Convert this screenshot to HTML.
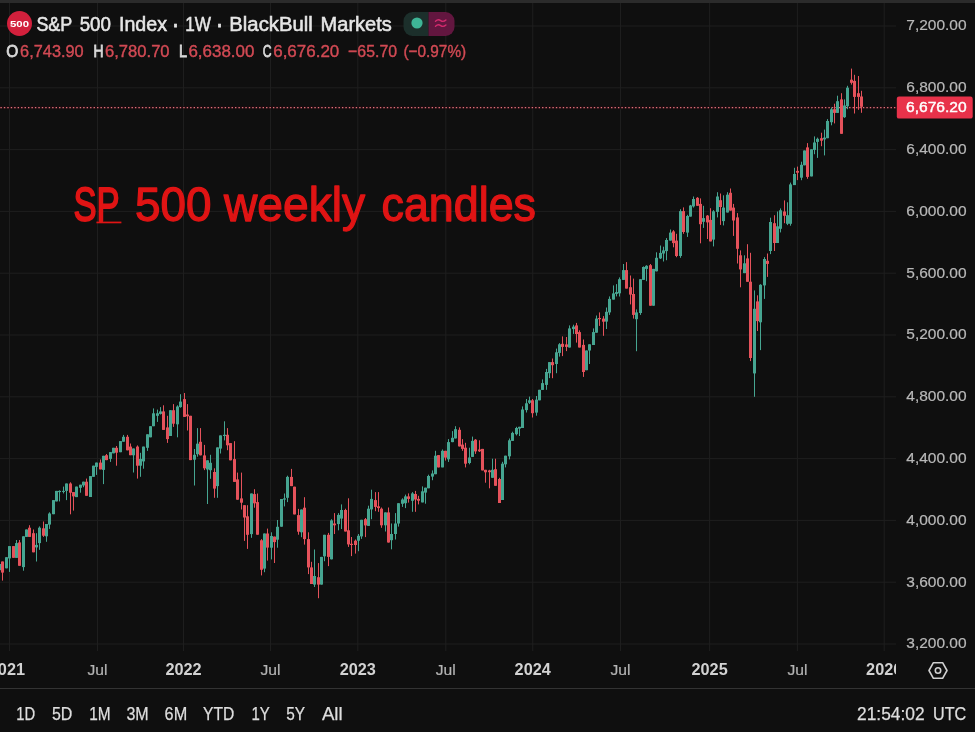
<!DOCTYPE html>
<html lang="en"><head><meta charset="utf-8"><title>S&amp;P 500 Index weekly chart</title>
<style>html,body{margin:0;padding:0;background:#0f0f0f;}body{width:975px;height:732px;overflow:hidden;font-family:"Liberation Sans",sans-serif;}</style>
</head><body>
<svg width="975" height="732" viewBox="0 0 975 732" style="display:block" font-family="'Liberation Sans', sans-serif">
<rect width="975" height="732" fill="#0f0f0f"/>
<rect x="0" y="0" width="975" height="3" fill="#2b2b2b"/>
<rect x="9.0" y="3" width="1" height="648" fill="#1e1e1e"/>
<rect x="97.0" y="3" width="1" height="648" fill="#1e1e1e"/>
<rect x="183.0" y="3" width="1" height="648" fill="#1e1e1e"/>
<rect x="270.0" y="3" width="1" height="648" fill="#1e1e1e"/>
<rect x="357.3" y="3" width="1" height="648" fill="#1e1e1e"/>
<rect x="445.3" y="3" width="1" height="648" fill="#1e1e1e"/>
<rect x="532.2" y="3" width="1" height="648" fill="#1e1e1e"/>
<rect x="620.0" y="3" width="1" height="648" fill="#1e1e1e"/>
<rect x="709.1" y="3" width="1" height="648" fill="#1e1e1e"/>
<rect x="796.9" y="3" width="1" height="648" fill="#1e1e1e"/>
<rect x="883.7" y="3" width="1" height="648" fill="#1e1e1e"/>
<rect x="0" y="643.5" width="896" height="1" fill="#1e1e1e"/>
<rect x="0" y="581.7" width="896" height="1" fill="#1e1e1e"/>
<rect x="0" y="519.9" width="896" height="1" fill="#1e1e1e"/>
<rect x="0" y="458.1" width="896" height="1" fill="#1e1e1e"/>
<rect x="0" y="396.3" width="896" height="1" fill="#1e1e1e"/>
<rect x="0" y="334.5" width="896" height="1" fill="#1e1e1e"/>
<rect x="0" y="272.7" width="896" height="1" fill="#1e1e1e"/>
<rect x="0" y="210.9" width="896" height="1" fill="#1e1e1e"/>
<rect x="0" y="149.1" width="896" height="1" fill="#1e1e1e"/>
<rect x="0" y="87.3" width="896" height="1" fill="#1e1e1e"/>
<rect x="0" y="25.5" width="896" height="1" fill="#1e1e1e"/>
<rect x="0" y="688" width="975" height="1" fill="#333333"/>
<rect x="0" y="106.1" width="896" height="3" fill="#1c0d10" style="filter:blur(0.6px)"/>
<path d="M0.40 107.6h1.4M3.85 107.6h1.4M7.30 107.6h1.4M10.75 107.6h1.4M14.20 107.6h1.4M17.65 107.6h1.4M21.10 107.6h1.4M24.55 107.6h1.4M28.00 107.6h1.4M31.45 107.6h1.4M34.90 107.6h1.4M38.35 107.6h1.4M41.80 107.6h1.4M45.25 107.6h1.4M48.70 107.6h1.4M52.15 107.6h1.4M55.60 107.6h1.4M59.05 107.6h1.4M62.50 107.6h1.4M65.95 107.6h1.4M69.40 107.6h1.4M72.85 107.6h1.4M76.30 107.6h1.4M79.75 107.6h1.4M83.20 107.6h1.4M86.65 107.6h1.4M90.10 107.6h1.4M93.55 107.6h1.4M97.00 107.6h1.4M100.45 107.6h1.4M103.90 107.6h1.4M107.35 107.6h1.4M110.80 107.6h1.4M114.25 107.6h1.4M117.70 107.6h1.4M121.15 107.6h1.4M124.60 107.6h1.4M128.05 107.6h1.4M131.50 107.6h1.4M134.95 107.6h1.4M138.40 107.6h1.4M141.85 107.6h1.4M145.30 107.6h1.4M148.75 107.6h1.4M152.20 107.6h1.4M155.65 107.6h1.4M159.10 107.6h1.4M162.55 107.6h1.4M166.00 107.6h1.4M169.45 107.6h1.4M172.90 107.6h1.4M176.35 107.6h1.4M179.80 107.6h1.4M183.25 107.6h1.4M186.70 107.6h1.4M190.15 107.6h1.4M193.60 107.6h1.4M197.05 107.6h1.4M200.50 107.6h1.4M203.95 107.6h1.4M207.40 107.6h1.4M210.85 107.6h1.4M214.30 107.6h1.4M217.75 107.6h1.4M221.20 107.6h1.4M224.65 107.6h1.4M228.10 107.6h1.4M231.55 107.6h1.4M235.00 107.6h1.4M238.45 107.6h1.4M241.90 107.6h1.4M245.35 107.6h1.4M248.80 107.6h1.4M252.25 107.6h1.4M255.70 107.6h1.4M259.15 107.6h1.4M262.60 107.6h1.4M266.05 107.6h1.4M269.50 107.6h1.4M272.95 107.6h1.4M276.40 107.6h1.4M279.85 107.6h1.4M283.30 107.6h1.4M286.75 107.6h1.4M290.20 107.6h1.4M293.65 107.6h1.4M297.10 107.6h1.4M300.55 107.6h1.4M304.00 107.6h1.4M307.45 107.6h1.4M310.90 107.6h1.4M314.35 107.6h1.4M317.80 107.6h1.4M321.25 107.6h1.4M324.70 107.6h1.4M328.15 107.6h1.4M331.60 107.6h1.4M335.05 107.6h1.4M338.50 107.6h1.4M341.95 107.6h1.4M345.40 107.6h1.4M348.85 107.6h1.4M352.30 107.6h1.4M355.75 107.6h1.4M359.20 107.6h1.4M362.65 107.6h1.4M366.10 107.6h1.4M369.55 107.6h1.4M373.00 107.6h1.4M376.45 107.6h1.4M379.90 107.6h1.4M383.35 107.6h1.4M386.80 107.6h1.4M390.25 107.6h1.4M393.70 107.6h1.4M397.15 107.6h1.4M400.60 107.6h1.4M404.05 107.6h1.4M407.50 107.6h1.4M410.95 107.6h1.4M414.40 107.6h1.4M417.85 107.6h1.4M421.30 107.6h1.4M424.75 107.6h1.4M428.20 107.6h1.4M431.65 107.6h1.4M435.10 107.6h1.4M438.55 107.6h1.4M442.00 107.6h1.4M445.45 107.6h1.4M448.90 107.6h1.4M452.35 107.6h1.4M455.80 107.6h1.4M459.25 107.6h1.4M462.70 107.6h1.4M466.15 107.6h1.4M469.60 107.6h1.4M473.05 107.6h1.4M476.50 107.6h1.4M479.95 107.6h1.4M483.40 107.6h1.4M486.85 107.6h1.4M490.30 107.6h1.4M493.75 107.6h1.4M497.20 107.6h1.4M500.65 107.6h1.4M504.10 107.6h1.4M507.55 107.6h1.4M511.00 107.6h1.4M514.45 107.6h1.4M517.90 107.6h1.4M521.35 107.6h1.4M524.80 107.6h1.4M528.25 107.6h1.4M531.70 107.6h1.4M535.15 107.6h1.4M538.60 107.6h1.4M542.05 107.6h1.4M545.50 107.6h1.4M548.95 107.6h1.4M552.40 107.6h1.4M555.85 107.6h1.4M559.30 107.6h1.4M562.75 107.6h1.4M566.20 107.6h1.4M569.65 107.6h1.4M573.10 107.6h1.4M576.55 107.6h1.4M580.00 107.6h1.4M583.45 107.6h1.4M586.90 107.6h1.4M590.35 107.6h1.4M593.80 107.6h1.4M597.25 107.6h1.4M600.70 107.6h1.4M604.15 107.6h1.4M607.60 107.6h1.4M611.05 107.6h1.4M614.50 107.6h1.4M617.95 107.6h1.4M621.40 107.6h1.4M624.85 107.6h1.4M628.30 107.6h1.4M631.75 107.6h1.4M635.20 107.6h1.4M638.65 107.6h1.4M642.10 107.6h1.4M645.55 107.6h1.4M649.00 107.6h1.4M652.45 107.6h1.4M655.90 107.6h1.4M659.35 107.6h1.4M662.80 107.6h1.4M666.25 107.6h1.4M669.70 107.6h1.4M673.15 107.6h1.4M676.60 107.6h1.4M680.05 107.6h1.4M683.50 107.6h1.4M686.95 107.6h1.4M690.40 107.6h1.4M693.85 107.6h1.4M697.30 107.6h1.4M700.75 107.6h1.4M704.20 107.6h1.4M707.65 107.6h1.4M711.10 107.6h1.4M714.55 107.6h1.4M718.00 107.6h1.4M721.45 107.6h1.4M724.90 107.6h1.4M728.35 107.6h1.4M731.80 107.6h1.4M735.25 107.6h1.4M738.70 107.6h1.4M742.15 107.6h1.4M745.60 107.6h1.4M749.05 107.6h1.4M752.50 107.6h1.4M755.95 107.6h1.4M759.40 107.6h1.4M762.85 107.6h1.4M766.30 107.6h1.4M769.75 107.6h1.4M773.20 107.6h1.4M776.65 107.6h1.4M780.10 107.6h1.4M783.55 107.6h1.4M787.00 107.6h1.4M790.45 107.6h1.4M793.90 107.6h1.4M797.35 107.6h1.4M800.80 107.6h1.4M804.25 107.6h1.4M807.70 107.6h1.4M811.15 107.6h1.4M814.60 107.6h1.4M818.05 107.6h1.4M821.50 107.6h1.4M824.95 107.6h1.4M828.40 107.6h1.4M831.85 107.6h1.4M835.30 107.6h1.4M838.75 107.6h1.4M842.20 107.6h1.4M845.65 107.6h1.4M849.10 107.6h1.4M852.55 107.6h1.4M856.00 107.6h1.4M859.45 107.6h1.4M862.90 107.6h1.4M866.35 107.6h1.4M869.80 107.6h1.4M873.25 107.6h1.4M876.70 107.6h1.4M880.15 107.6h1.4M883.60 107.6h1.4M887.05 107.6h1.4M890.50 107.6h1.4M893.95 107.6h1.4" stroke="#e0707a" stroke-width="1.3" fill="none"/>
<g style="filter:blur(0.4px)">
<rect x="-1" y="564.0" width="1" height="6.2" fill="#46a591"/>
<rect x="-2" y="564.0" width="3" height="6.2" fill="#46a591"/>
<rect x="2" y="561.5" width="1" height="19.1" fill="#e5525b"/>
<rect x="1" y="561.5" width="3" height="11.1" fill="#e5525b"/>
<rect x="6" y="557.2" width="1" height="11.1" fill="#46a591"/>
<rect x="5" y="557.2" width="3" height="11.1" fill="#46a591"/>
<rect x="9" y="546.1" width="1" height="25.8" fill="#46a591"/>
<rect x="8" y="546.1" width="3" height="12.3" fill="#46a591"/>
<rect x="13" y="546.1" width="1" height="11.7" fill="#e5525b"/>
<rect x="12" y="546.1" width="3" height="11.7" fill="#e5525b"/>
<rect x="16" y="540.0" width="1" height="17.8" fill="#46a591"/>
<rect x="15" y="543.1" width="3" height="14.8" fill="#46a591"/>
<rect x="19" y="540.0" width="1" height="25.8" fill="#e5525b"/>
<rect x="18" y="542.4" width="3" height="23.4" fill="#e5525b"/>
<rect x="23" y="536.3" width="1" height="34.4" fill="#46a591"/>
<rect x="22" y="536.3" width="3" height="30.8" fill="#46a591"/>
<rect x="26" y="529.5" width="1" height="7.4" fill="#46a591"/>
<rect x="25" y="529.5" width="3" height="7.4" fill="#46a591"/>
<rect x="29" y="525.2" width="1" height="11.7" fill="#e5525b"/>
<rect x="28" y="527.7" width="3" height="9.2" fill="#e5525b"/>
<rect x="33" y="529.5" width="1" height="22.8" fill="#e5525b"/>
<rect x="32" y="533.2" width="3" height="19.1" fill="#e5525b"/>
<rect x="36" y="533.2" width="1" height="28.3" fill="#46a591"/>
<rect x="35" y="544.9" width="3" height="2.5" fill="#46a591"/>
<rect x="39" y="526.4" width="1" height="23.4" fill="#46a591"/>
<rect x="38" y="527.7" width="3" height="15.4" fill="#46a591"/>
<rect x="43" y="521.5" width="1" height="15.4" fill="#e5525b"/>
<rect x="42" y="528.3" width="3" height="7.4" fill="#e5525b"/>
<rect x="46" y="524.0" width="1" height="17.8" fill="#46a591"/>
<rect x="45" y="524.0" width="3" height="12.3" fill="#46a591"/>
<rect x="49" y="512.3" width="1" height="16.6" fill="#46a591"/>
<rect x="48" y="513.5" width="3" height="11.1" fill="#46a591"/>
<rect x="53" y="500.1" width="1" height="14.1" fill="#46a591"/>
<rect x="52" y="500.1" width="3" height="14.1" fill="#46a591"/>
<rect x="56" y="490.9" width="1" height="10.5" fill="#46a591"/>
<rect x="55" y="490.9" width="3" height="10.5" fill="#46a591"/>
<rect x="59" y="490.3" width="1" height="11.1" fill="#46a591"/>
<rect x="58" y="490.9" width="3" height="1.2" fill="#46a591"/>
<rect x="63" y="486.6" width="1" height="6.8" fill="#46a591"/>
<rect x="62" y="490.9" width="3" height="1.0" fill="#46a591"/>
<rect x="66" y="483.5" width="1" height="16.6" fill="#46a591"/>
<rect x="65" y="483.5" width="3" height="7.4" fill="#46a591"/>
<rect x="70" y="482.3" width="1" height="32.0" fill="#e5525b"/>
<rect x="69" y="483.5" width="3" height="9.2" fill="#e5525b"/>
<rect x="73" y="492.1" width="1" height="18.5" fill="#e5525b"/>
<rect x="72" y="492.1" width="3" height="4.3" fill="#e5525b"/>
<rect x="76" y="486.6" width="1" height="10.5" fill="#46a591"/>
<rect x="75" y="486.6" width="3" height="10.5" fill="#46a591"/>
<rect x="80" y="484.7" width="1" height="8.0" fill="#46a591"/>
<rect x="79" y="484.7" width="3" height="3.1" fill="#46a591"/>
<rect x="83" y="481.7" width="1" height="5.5" fill="#46a591"/>
<rect x="82" y="481.7" width="3" height="3.7" fill="#46a591"/>
<rect x="86" y="478.6" width="1" height="17.2" fill="#e5525b"/>
<rect x="85" y="481.7" width="3" height="14.1" fill="#e5525b"/>
<rect x="90" y="476.1" width="1" height="20.9" fill="#46a591"/>
<rect x="89" y="476.1" width="3" height="20.9" fill="#46a591"/>
<rect x="93" y="465.7" width="1" height="11.1" fill="#46a591"/>
<rect x="92" y="465.7" width="3" height="11.1" fill="#46a591"/>
<rect x="96" y="462.6" width="1" height="12.3" fill="#46a591"/>
<rect x="95" y="462.6" width="3" height="4.3" fill="#46a591"/>
<rect x="100" y="459.5" width="1" height="9.8" fill="#e5525b"/>
<rect x="99" y="462.6" width="3" height="6.8" fill="#e5525b"/>
<rect x="103" y="455.8" width="1" height="28.3" fill="#46a591"/>
<rect x="102" y="455.8" width="3" height="14.1" fill="#46a591"/>
<rect x="106" y="454.0" width="1" height="6.2" fill="#e5525b"/>
<rect x="105" y="455.2" width="3" height="4.9" fill="#e5525b"/>
<rect x="110" y="452.1" width="1" height="9.8" fill="#46a591"/>
<rect x="109" y="452.1" width="3" height="6.8" fill="#46a591"/>
<rect x="113" y="447.8" width="1" height="5.5" fill="#46a591"/>
<rect x="112" y="447.8" width="3" height="5.5" fill="#46a591"/>
<rect x="116" y="446.0" width="1" height="19.7" fill="#e5525b"/>
<rect x="115" y="447.8" width="3" height="4.9" fill="#e5525b"/>
<rect x="120" y="441.1" width="1" height="11.1" fill="#46a591"/>
<rect x="119" y="441.1" width="3" height="11.1" fill="#46a591"/>
<rect x="123" y="434.9" width="1" height="6.8" fill="#46a591"/>
<rect x="122" y="436.8" width="3" height="4.9" fill="#46a591"/>
<rect x="127" y="434.9" width="1" height="15.4" fill="#e5525b"/>
<rect x="126" y="436.8" width="3" height="13.5" fill="#e5525b"/>
<rect x="130" y="443.5" width="1" height="11.7" fill="#e5525b"/>
<rect x="129" y="446.6" width="3" height="8.6" fill="#e5525b"/>
<rect x="133" y="448.5" width="1" height="24.0" fill="#46a591"/>
<rect x="132" y="448.5" width="3" height="6.8" fill="#46a591"/>
<rect x="137" y="445.4" width="1" height="33.2" fill="#e5525b"/>
<rect x="136" y="446.6" width="3" height="19.1" fill="#e5525b"/>
<rect x="140" y="452.8" width="1" height="24.0" fill="#46a591"/>
<rect x="139" y="458.9" width="3" height="6.8" fill="#46a591"/>
<rect x="143" y="446.6" width="1" height="22.1" fill="#46a591"/>
<rect x="142" y="446.6" width="3" height="14.8" fill="#46a591"/>
<rect x="147" y="434.3" width="1" height="16.6" fill="#46a591"/>
<rect x="146" y="434.3" width="3" height="13.5" fill="#46a591"/>
<rect x="150" y="426.2" width="1" height="11.1" fill="#46a591"/>
<rect x="149" y="426.2" width="3" height="11.1" fill="#46a591"/>
<rect x="153" y="408.4" width="1" height="17.8" fill="#46a591"/>
<rect x="152" y="413.3" width="3" height="12.9" fill="#46a591"/>
<rect x="157" y="409.6" width="1" height="12.3" fill="#46a591"/>
<rect x="156" y="413.3" width="3" height="2.5" fill="#46a591"/>
<rect x="160" y="407.1" width="1" height="7.4" fill="#46a591"/>
<rect x="159" y="411.4" width="3" height="2.5" fill="#46a591"/>
<rect x="163" y="405.3" width="1" height="24.6" fill="#e5525b"/>
<rect x="162" y="411.4" width="3" height="18.5" fill="#e5525b"/>
<rect x="167" y="415.8" width="1" height="27.1" fill="#e5525b"/>
<rect x="166" y="427.4" width="3" height="11.7" fill="#e5525b"/>
<rect x="170" y="410.2" width="1" height="25.8" fill="#46a591"/>
<rect x="169" y="410.2" width="3" height="25.8" fill="#46a591"/>
<rect x="173" y="404.1" width="1" height="22.8" fill="#e5525b"/>
<rect x="172" y="410.2" width="3" height="13.5" fill="#e5525b"/>
<rect x="177" y="405.3" width="1" height="32.0" fill="#46a591"/>
<rect x="176" y="406.5" width="3" height="17.8" fill="#46a591"/>
<rect x="180" y="394.2" width="1" height="13.5" fill="#46a591"/>
<rect x="179" y="401.6" width="3" height="5.5" fill="#46a591"/>
<rect x="184" y="393.0" width="1" height="24.0" fill="#e5525b"/>
<rect x="183" y="399.1" width="3" height="17.8" fill="#e5525b"/>
<rect x="187" y="404.1" width="1" height="26.4" fill="#e5525b"/>
<rect x="186" y="414.5" width="3" height="1.8" fill="#e5525b"/>
<rect x="190" y="415.8" width="1" height="44.3" fill="#e5525b"/>
<rect x="189" y="415.8" width="3" height="44.3" fill="#e5525b"/>
<rect x="194" y="449.0" width="1" height="36.5" fill="#46a591"/>
<rect x="193" y="454.8" width="3" height="4.9" fill="#46a591"/>
<rect x="197" y="428.1" width="1" height="28.6" fill="#46a591"/>
<rect x="196" y="443.7" width="3" height="10.5" fill="#46a591"/>
<rect x="200" y="428.1" width="1" height="27.3" fill="#e5525b"/>
<rect x="199" y="441.8" width="3" height="13.5" fill="#e5525b"/>
<rect x="204" y="444.9" width="1" height="25.2" fill="#e5525b"/>
<rect x="203" y="455.4" width="3" height="12.9" fill="#e5525b"/>
<rect x="207" y="460.3" width="1" height="43.7" fill="#46a591"/>
<rect x="206" y="460.3" width="3" height="9.2" fill="#46a591"/>
<rect x="210" y="454.8" width="1" height="24.0" fill="#46a591"/>
<rect x="209" y="462.8" width="3" height="7.4" fill="#46a591"/>
<rect x="214" y="468.3" width="1" height="29.5" fill="#e5525b"/>
<rect x="213" y="472.0" width="3" height="16.6" fill="#e5525b"/>
<rect x="217" y="447.4" width="1" height="50.4" fill="#46a591"/>
<rect x="216" y="447.4" width="3" height="38.7" fill="#46a591"/>
<rect x="220" y="435.4" width="1" height="18.1" fill="#46a591"/>
<rect x="219" y="435.4" width="3" height="13.2" fill="#46a591"/>
<rect x="224" y="421.3" width="1" height="19.1" fill="#46a591"/>
<rect x="223" y="434.8" width="3" height="1.2" fill="#46a591"/>
<rect x="227" y="428.1" width="1" height="22.1" fill="#e5525b"/>
<rect x="226" y="434.8" width="3" height="10.5" fill="#e5525b"/>
<rect x="230" y="443.1" width="1" height="17.2" fill="#e5525b"/>
<rect x="229" y="443.1" width="3" height="17.2" fill="#e5525b"/>
<rect x="234" y="441.2" width="1" height="40.6" fill="#e5525b"/>
<rect x="233" y="459.1" width="3" height="22.8" fill="#e5525b"/>
<rect x="237" y="472.6" width="1" height="27.1" fill="#e5525b"/>
<rect x="236" y="479.4" width="3" height="20.3" fill="#e5525b"/>
<rect x="241" y="472.6" width="1" height="36.9" fill="#e5525b"/>
<rect x="240" y="498.4" width="3" height="4.3" fill="#e5525b"/>
<rect x="244" y="505.2" width="1" height="35.7" fill="#e5525b"/>
<rect x="243" y="505.2" width="3" height="12.3" fill="#e5525b"/>
<rect x="247" y="505.2" width="1" height="43.7" fill="#e5525b"/>
<rect x="246" y="516.3" width="3" height="18.5" fill="#e5525b"/>
<rect x="251" y="493.5" width="1" height="44.3" fill="#46a591"/>
<rect x="250" y="493.5" width="3" height="40.6" fill="#46a591"/>
<rect x="254" y="489.2" width="1" height="18.5" fill="#e5525b"/>
<rect x="253" y="494.1" width="3" height="9.2" fill="#e5525b"/>
<rect x="257" y="493.5" width="1" height="41.2" fill="#e5525b"/>
<rect x="256" y="502.1" width="3" height="32.6" fill="#e5525b"/>
<rect x="261" y="539.1" width="1" height="36.3" fill="#e5525b"/>
<rect x="260" y="540.3" width="3" height="29.5" fill="#e5525b"/>
<rect x="264" y="533.5" width="1" height="38.7" fill="#46a591"/>
<rect x="263" y="533.5" width="3" height="35.1" fill="#46a591"/>
<rect x="267" y="528.6" width="1" height="32.0" fill="#e5525b"/>
<rect x="266" y="533.5" width="3" height="14.1" fill="#e5525b"/>
<rect x="271" y="532.3" width="1" height="27.1" fill="#46a591"/>
<rect x="270" y="536.0" width="3" height="11.7" fill="#46a591"/>
<rect x="274" y="536.6" width="1" height="26.4" fill="#e5525b"/>
<rect x="273" y="536.6" width="3" height="5.5" fill="#e5525b"/>
<rect x="277" y="520.0" width="1" height="27.7" fill="#46a591"/>
<rect x="276" y="526.8" width="3" height="12.9" fill="#46a591"/>
<rect x="281" y="499.0" width="1" height="27.7" fill="#46a591"/>
<rect x="280" y="499.0" width="3" height="27.7" fill="#46a591"/>
<rect x="284" y="493.5" width="1" height="12.9" fill="#46a591"/>
<rect x="283" y="498.4" width="3" height="1.2" fill="#46a591"/>
<rect x="287" y="475.7" width="1" height="26.4" fill="#46a591"/>
<rect x="286" y="476.9" width="3" height="20.9" fill="#46a591"/>
<rect x="291" y="468.9" width="1" height="17.2" fill="#e5525b"/>
<rect x="290" y="476.9" width="3" height="9.2" fill="#e5525b"/>
<rect x="294" y="486.7" width="1" height="27.7" fill="#e5525b"/>
<rect x="293" y="486.7" width="3" height="27.7" fill="#e5525b"/>
<rect x="298" y="508.9" width="1" height="25.8" fill="#e5525b"/>
<rect x="297" y="515.1" width="3" height="16.6" fill="#e5525b"/>
<rect x="301" y="509.5" width="1" height="27.7" fill="#46a591"/>
<rect x="300" y="509.5" width="3" height="22.8" fill="#46a591"/>
<rect x="304" y="497.2" width="1" height="47.4" fill="#e5525b"/>
<rect x="303" y="507.7" width="3" height="31.4" fill="#e5525b"/>
<rect x="308" y="532.3" width="1" height="41.8" fill="#e5525b"/>
<rect x="307" y="539.1" width="3" height="28.3" fill="#e5525b"/>
<rect x="311" y="561.8" width="1" height="22.1" fill="#e5525b"/>
<rect x="310" y="567.4" width="3" height="16.6" fill="#e5525b"/>
<rect x="314" y="549.5" width="1" height="37.5" fill="#46a591"/>
<rect x="313" y="576.0" width="3" height="8.6" fill="#46a591"/>
<rect x="318" y="563.1" width="1" height="35.1" fill="#e5525b"/>
<rect x="317" y="577.2" width="3" height="7.4" fill="#e5525b"/>
<rect x="321" y="556.9" width="1" height="27.7" fill="#46a591"/>
<rect x="320" y="556.9" width="3" height="27.7" fill="#46a591"/>
<rect x="324" y="534.8" width="1" height="26.4" fill="#46a591"/>
<rect x="323" y="534.8" width="3" height="21.5" fill="#46a591"/>
<rect x="328" y="532.9" width="1" height="33.2" fill="#e5525b"/>
<rect x="327" y="534.8" width="3" height="22.1" fill="#e5525b"/>
<rect x="331" y="519.2" width="1" height="40.2" fill="#46a591"/>
<rect x="330" y="520.4" width="3" height="38.9" fill="#46a591"/>
<rect x="334" y="513.1" width="1" height="20.9" fill="#e5525b"/>
<rect x="333" y="523.5" width="3" height="1.8" fill="#e5525b"/>
<rect x="338" y="513.1" width="1" height="17.2" fill="#46a591"/>
<rect x="337" y="514.9" width="3" height="9.2" fill="#46a591"/>
<rect x="341" y="504.4" width="1" height="24.6" fill="#46a591"/>
<rect x="340" y="510.0" width="3" height="8.6" fill="#46a591"/>
<rect x="345" y="508.7" width="1" height="22.8" fill="#e5525b"/>
<rect x="344" y="510.0" width="3" height="21.5" fill="#e5525b"/>
<rect x="348" y="498.3" width="1" height="48.6" fill="#e5525b"/>
<rect x="347" y="530.3" width="3" height="14.1" fill="#e5525b"/>
<rect x="351" y="537.0" width="1" height="19.1" fill="#e5525b"/>
<rect x="350" y="543.8" width="3" height="1.2" fill="#e5525b"/>
<rect x="355" y="539.5" width="1" height="14.1" fill="#e5525b"/>
<rect x="354" y="540.7" width="3" height="4.3" fill="#e5525b"/>
<rect x="358" y="534.0" width="1" height="17.2" fill="#46a591"/>
<rect x="357" y="535.8" width="3" height="4.9" fill="#46a591"/>
<rect x="361" y="519.8" width="1" height="19.1" fill="#46a591"/>
<rect x="360" y="519.8" width="3" height="16.6" fill="#46a591"/>
<rect x="365" y="518.0" width="1" height="19.1" fill="#e5525b"/>
<rect x="364" y="519.2" width="3" height="6.2" fill="#e5525b"/>
<rect x="368" y="505.7" width="1" height="20.3" fill="#46a591"/>
<rect x="367" y="508.7" width="3" height="17.2" fill="#46a591"/>
<rect x="371" y="489.7" width="1" height="29.5" fill="#46a591"/>
<rect x="370" y="498.9" width="3" height="10.5" fill="#46a591"/>
<rect x="375" y="492.1" width="1" height="19.1" fill="#e5525b"/>
<rect x="374" y="500.1" width="3" height="6.8" fill="#e5525b"/>
<rect x="378" y="492.1" width="1" height="19.7" fill="#e5525b"/>
<rect x="377" y="506.3" width="3" height="1.8" fill="#e5525b"/>
<rect x="381" y="507.5" width="1" height="20.3" fill="#e5525b"/>
<rect x="380" y="508.7" width="3" height="16.6" fill="#e5525b"/>
<rect x="385" y="512.4" width="1" height="19.1" fill="#46a591"/>
<rect x="384" y="512.4" width="3" height="12.9" fill="#46a591"/>
<rect x="388" y="507.5" width="1" height="35.1" fill="#e5525b"/>
<rect x="387" y="512.4" width="3" height="30.1" fill="#e5525b"/>
<rect x="391" y="523.5" width="1" height="25.8" fill="#46a591"/>
<rect x="390" y="534.0" width="3" height="6.2" fill="#46a591"/>
<rect x="395" y="513.1" width="1" height="26.4" fill="#46a591"/>
<rect x="394" y="523.5" width="3" height="10.5" fill="#46a591"/>
<rect x="398" y="503.2" width="1" height="23.4" fill="#46a591"/>
<rect x="397" y="503.2" width="3" height="20.3" fill="#46a591"/>
<rect x="402" y="498.3" width="1" height="8.6" fill="#46a591"/>
<rect x="401" y="499.5" width="3" height="4.3" fill="#46a591"/>
<rect x="405" y="494.6" width="1" height="13.5" fill="#46a591"/>
<rect x="404" y="496.4" width="3" height="6.8" fill="#46a591"/>
<rect x="408" y="493.4" width="1" height="9.2" fill="#e5525b"/>
<rect x="407" y="496.4" width="3" height="2.5" fill="#e5525b"/>
<rect x="412" y="492.1" width="1" height="19.7" fill="#46a591"/>
<rect x="411" y="493.4" width="3" height="7.4" fill="#46a591"/>
<rect x="415" y="490.9" width="1" height="20.9" fill="#e5525b"/>
<rect x="414" y="494.0" width="3" height="5.5" fill="#e5525b"/>
<rect x="418" y="495.8" width="1" height="8.6" fill="#e5525b"/>
<rect x="417" y="498.9" width="3" height="1.8" fill="#e5525b"/>
<rect x="422" y="486.4" width="1" height="16.0" fill="#46a591"/>
<rect x="421" y="491.3" width="3" height="11.1" fill="#46a591"/>
<rect x="425" y="487.7" width="1" height="16.0" fill="#46a591"/>
<rect x="424" y="487.7" width="3" height="4.9" fill="#46a591"/>
<rect x="428" y="474.7" width="1" height="13.5" fill="#46a591"/>
<rect x="427" y="476.0" width="3" height="12.3" fill="#46a591"/>
<rect x="432" y="470.4" width="1" height="9.8" fill="#46a591"/>
<rect x="431" y="473.5" width="3" height="3.1" fill="#46a591"/>
<rect x="435" y="450.8" width="1" height="23.4" fill="#46a591"/>
<rect x="434" y="455.7" width="3" height="18.5" fill="#46a591"/>
<rect x="438" y="455.1" width="1" height="12.3" fill="#e5525b"/>
<rect x="437" y="455.1" width="3" height="12.3" fill="#e5525b"/>
<rect x="442" y="449.5" width="1" height="17.8" fill="#46a591"/>
<rect x="441" y="450.8" width="3" height="16.6" fill="#46a591"/>
<rect x="445" y="450.8" width="1" height="9.8" fill="#e5525b"/>
<rect x="444" y="450.8" width="3" height="6.8" fill="#e5525b"/>
<rect x="448" y="439.1" width="1" height="22.8" fill="#46a591"/>
<rect x="447" y="442.1" width="3" height="17.2" fill="#46a591"/>
<rect x="452" y="431.1" width="1" height="11.1" fill="#46a591"/>
<rect x="451" y="437.8" width="3" height="4.3" fill="#46a591"/>
<rect x="455" y="426.2" width="1" height="12.3" fill="#46a591"/>
<rect x="454" y="429.2" width="3" height="9.2" fill="#46a591"/>
<rect x="459" y="427.4" width="1" height="19.1" fill="#e5525b"/>
<rect x="458" y="429.8" width="3" height="16.6" fill="#e5525b"/>
<rect x="462" y="439.1" width="1" height="11.7" fill="#e5525b"/>
<rect x="461" y="444.6" width="3" height="4.3" fill="#e5525b"/>
<rect x="465" y="442.8" width="1" height="24.6" fill="#e5525b"/>
<rect x="464" y="447.7" width="3" height="16.0" fill="#e5525b"/>
<rect x="469" y="447.7" width="1" height="16.6" fill="#46a591"/>
<rect x="468" y="457.5" width="3" height="5.5" fill="#46a591"/>
<rect x="472" y="436.6" width="1" height="20.3" fill="#46a591"/>
<rect x="471" y="440.9" width="3" height="16.0" fill="#46a591"/>
<rect x="475" y="439.1" width="1" height="14.8" fill="#e5525b"/>
<rect x="474" y="439.7" width="3" height="11.7" fill="#e5525b"/>
<rect x="479" y="440.3" width="1" height="11.7" fill="#e5525b"/>
<rect x="478" y="449.5" width="3" height="1.8" fill="#e5525b"/>
<rect x="482" y="448.9" width="1" height="21.5" fill="#e5525b"/>
<rect x="481" y="448.9" width="3" height="21.5" fill="#e5525b"/>
<rect x="485" y="469.8" width="1" height="12.9" fill="#e5525b"/>
<rect x="484" y="469.8" width="3" height="2.5" fill="#e5525b"/>
<rect x="489" y="469.8" width="1" height="18.5" fill="#e5525b"/>
<rect x="488" y="470.4" width="3" height="1.8" fill="#e5525b"/>
<rect x="492" y="458.7" width="1" height="19.1" fill="#46a591"/>
<rect x="491" y="469.8" width="3" height="8.0" fill="#46a591"/>
<rect x="495" y="458.7" width="1" height="27.1" fill="#e5525b"/>
<rect x="494" y="469.2" width="3" height="16.6" fill="#e5525b"/>
<rect x="499" y="477.8" width="1" height="25.2" fill="#e5525b"/>
<rect x="498" y="479.0" width="3" height="24.0" fill="#e5525b"/>
<rect x="502" y="461.8" width="1" height="38.1" fill="#46a591"/>
<rect x="501" y="463.7" width="3" height="36.3" fill="#46a591"/>
<rect x="505" y="455.7" width="1" height="11.7" fill="#46a591"/>
<rect x="504" y="455.7" width="3" height="8.6" fill="#46a591"/>
<rect x="509" y="438.5" width="1" height="20.9" fill="#46a591"/>
<rect x="508" y="440.3" width="3" height="16.0" fill="#46a591"/>
<rect x="512" y="431.7" width="1" height="9.2" fill="#46a591"/>
<rect x="511" y="432.9" width="3" height="8.0" fill="#46a591"/>
<rect x="516" y="426.8" width="1" height="8.6" fill="#46a591"/>
<rect x="515" y="428.0" width="3" height="6.2" fill="#46a591"/>
<rect x="519" y="426.8" width="1" height="9.2" fill="#46a591"/>
<rect x="518" y="426.8" width="3" height="1.8" fill="#46a591"/>
<rect x="522" y="406.4" width="1" height="21.5" fill="#46a591"/>
<rect x="521" y="409.5" width="3" height="18.5" fill="#46a591"/>
<rect x="526" y="399.0" width="1" height="13.5" fill="#46a591"/>
<rect x="525" y="403.3" width="3" height="6.8" fill="#46a591"/>
<rect x="529" y="396.6" width="1" height="7.4" fill="#46a591"/>
<rect x="528" y="400.3" width="3" height="2.5" fill="#46a591"/>
<rect x="532" y="399.0" width="1" height="18.5" fill="#e5525b"/>
<rect x="531" y="400.3" width="3" height="12.9" fill="#e5525b"/>
<rect x="536" y="396.0" width="1" height="19.7" fill="#46a591"/>
<rect x="535" y="399.7" width="3" height="12.9" fill="#46a591"/>
<rect x="539" y="389.8" width="1" height="10.5" fill="#46a591"/>
<rect x="538" y="389.8" width="3" height="10.5" fill="#46a591"/>
<rect x="542" y="379.4" width="1" height="10.5" fill="#46a591"/>
<rect x="541" y="383.1" width="3" height="6.8" fill="#46a591"/>
<rect x="546" y="368.9" width="1" height="20.9" fill="#46a591"/>
<rect x="545" y="372.0" width="3" height="12.9" fill="#46a591"/>
<rect x="549" y="362.1" width="1" height="16.0" fill="#46a591"/>
<rect x="548" y="362.1" width="3" height="11.1" fill="#46a591"/>
<rect x="552" y="358.5" width="1" height="19.7" fill="#e5525b"/>
<rect x="551" y="362.1" width="3" height="3.1" fill="#e5525b"/>
<rect x="556" y="348.6" width="1" height="24.6" fill="#46a591"/>
<rect x="555" y="352.3" width="3" height="11.7" fill="#46a591"/>
<rect x="559" y="343.1" width="1" height="13.5" fill="#46a591"/>
<rect x="558" y="344.3" width="3" height="8.6" fill="#46a591"/>
<rect x="562" y="336.4" width="1" height="19.7" fill="#e5525b"/>
<rect x="561" y="343.8" width="3" height="3.1" fill="#e5525b"/>
<rect x="566" y="337.0" width="1" height="14.1" fill="#e5525b"/>
<rect x="565" y="344.4" width="3" height="2.5" fill="#e5525b"/>
<rect x="569" y="325.4" width="1" height="22.1" fill="#46a591"/>
<rect x="568" y="328.4" width="3" height="19.1" fill="#46a591"/>
<rect x="573" y="324.7" width="1" height="9.2" fill="#46a591"/>
<rect x="572" y="326.6" width="3" height="2.5" fill="#46a591"/>
<rect x="576" y="322.9" width="1" height="19.7" fill="#e5525b"/>
<rect x="575" y="325.4" width="3" height="8.6" fill="#e5525b"/>
<rect x="579" y="330.3" width="1" height="17.2" fill="#e5525b"/>
<rect x="578" y="332.1" width="3" height="15.4" fill="#e5525b"/>
<rect x="583" y="339.5" width="1" height="37.4" fill="#e5525b"/>
<rect x="582" y="344.9" width="3" height="27.1" fill="#e5525b"/>
<rect x="586" y="350.5" width="1" height="19.7" fill="#46a591"/>
<rect x="585" y="350.5" width="3" height="19.7" fill="#46a591"/>
<rect x="589" y="344.3" width="1" height="19.7" fill="#46a591"/>
<rect x="588" y="344.3" width="3" height="6.2" fill="#46a591"/>
<rect x="593" y="328.4" width="1" height="16.6" fill="#46a591"/>
<rect x="592" y="332.1" width="3" height="12.9" fill="#46a591"/>
<rect x="596" y="315.5" width="1" height="17.2" fill="#46a591"/>
<rect x="595" y="318.6" width="3" height="14.1" fill="#46a591"/>
<rect x="599" y="312.4" width="1" height="13.5" fill="#e5525b"/>
<rect x="598" y="318.0" width="3" height="1.2" fill="#e5525b"/>
<rect x="603" y="316.1" width="1" height="19.7" fill="#e5525b"/>
<rect x="602" y="318.6" width="3" height="3.1" fill="#e5525b"/>
<rect x="606" y="307.5" width="1" height="21.5" fill="#46a591"/>
<rect x="605" y="311.8" width="3" height="9.8" fill="#46a591"/>
<rect x="609" y="296.4" width="1" height="18.5" fill="#46a591"/>
<rect x="608" y="298.9" width="3" height="13.5" fill="#46a591"/>
<rect x="613" y="285.4" width="1" height="14.1" fill="#46a591"/>
<rect x="612" y="293.4" width="3" height="6.2" fill="#46a591"/>
<rect x="616" y="284.1" width="1" height="12.3" fill="#46a591"/>
<rect x="615" y="292.1" width="3" height="1.8" fill="#46a591"/>
<rect x="619" y="277.4" width="1" height="19.1" fill="#46a591"/>
<rect x="618" y="279.2" width="3" height="14.1" fill="#46a591"/>
<rect x="623" y="264.0" width="1" height="16.0" fill="#46a591"/>
<rect x="622" y="270.1" width="3" height="9.8" fill="#46a591"/>
<rect x="626" y="262.1" width="1" height="26.4" fill="#e5525b"/>
<rect x="625" y="270.1" width="3" height="18.5" fill="#e5525b"/>
<rect x="630" y="275.5" width="1" height="28.9" fill="#e5525b"/>
<rect x="629" y="287.2" width="3" height="7.4" fill="#e5525b"/>
<rect x="633" y="278.6" width="1" height="40.0" fill="#e5525b"/>
<rect x="632" y="294.0" width="3" height="20.9" fill="#e5525b"/>
<rect x="636" y="309.4" width="1" height="41.8" fill="#46a591"/>
<rect x="635" y="312.4" width="3" height="6.8" fill="#46a591"/>
<rect x="640" y="279.2" width="1" height="35.7" fill="#46a591"/>
<rect x="639" y="279.2" width="3" height="33.8" fill="#46a591"/>
<rect x="643" y="266.4" width="1" height="13.5" fill="#46a591"/>
<rect x="642" y="267.0" width="3" height="12.9" fill="#46a591"/>
<rect x="646" y="265.2" width="1" height="16.0" fill="#46a591"/>
<rect x="645" y="265.8" width="3" height="3.1" fill="#46a591"/>
<rect x="650" y="264.0" width="1" height="41.7" fill="#e5525b"/>
<rect x="649" y="265.2" width="3" height="40.5" fill="#e5525b"/>
<rect x="653" y="268.9" width="1" height="36.8" fill="#46a591"/>
<rect x="652" y="268.9" width="3" height="36.8" fill="#46a591"/>
<rect x="656" y="252.3" width="1" height="19.1" fill="#46a591"/>
<rect x="655" y="257.8" width="3" height="13.5" fill="#46a591"/>
<rect x="660" y="245.5" width="1" height="13.5" fill="#46a591"/>
<rect x="659" y="252.9" width="3" height="5.5" fill="#46a591"/>
<rect x="663" y="246.7" width="1" height="14.8" fill="#46a591"/>
<rect x="662" y="250.4" width="3" height="3.1" fill="#46a591"/>
<rect x="666" y="238.1" width="1" height="22.1" fill="#46a591"/>
<rect x="665" y="240.0" width="3" height="11.1" fill="#46a591"/>
<rect x="670" y="229.5" width="1" height="11.1" fill="#46a591"/>
<rect x="669" y="232.6" width="3" height="8.0" fill="#46a591"/>
<rect x="673" y="230.1" width="1" height="17.2" fill="#e5525b"/>
<rect x="672" y="231.4" width="3" height="11.7" fill="#e5525b"/>
<rect x="676" y="233.8" width="1" height="23.4" fill="#e5525b"/>
<rect x="675" y="240.6" width="3" height="15.4" fill="#e5525b"/>
<rect x="680" y="209.2" width="1" height="48.6" fill="#46a591"/>
<rect x="679" y="211.1" width="3" height="44.9" fill="#46a591"/>
<rect x="683" y="207.4" width="1" height="26.4" fill="#e5525b"/>
<rect x="682" y="211.1" width="3" height="20.9" fill="#e5525b"/>
<rect x="687" y="214.8" width="1" height="22.1" fill="#46a591"/>
<rect x="686" y="216.0" width="3" height="16.6" fill="#46a591"/>
<rect x="690" y="204.9" width="1" height="11.7" fill="#46a591"/>
<rect x="689" y="205.5" width="3" height="11.1" fill="#46a591"/>
<rect x="693" y="196.5" width="1" height="11.1" fill="#46a591"/>
<rect x="692" y="199.0" width="3" height="7.4" fill="#46a591"/>
<rect x="697" y="197.1" width="1" height="8.6" fill="#e5525b"/>
<rect x="696" y="197.8" width="3" height="8.0" fill="#e5525b"/>
<rect x="700" y="198.4" width="1" height="44.9" fill="#e5525b"/>
<rect x="699" y="203.9" width="3" height="20.3" fill="#e5525b"/>
<rect x="703" y="205.8" width="1" height="22.1" fill="#46a591"/>
<rect x="702" y="218.1" width="3" height="3.7" fill="#46a591"/>
<rect x="707" y="215.0" width="1" height="24.0" fill="#e5525b"/>
<rect x="706" y="215.6" width="3" height="6.8" fill="#e5525b"/>
<rect x="710" y="208.2" width="1" height="33.2" fill="#e5525b"/>
<rect x="709" y="219.9" width="3" height="21.5" fill="#e5525b"/>
<rect x="713" y="210.1" width="1" height="36.3" fill="#46a591"/>
<rect x="712" y="211.3" width="3" height="28.3" fill="#46a591"/>
<rect x="717" y="192.2" width="1" height="25.2" fill="#46a591"/>
<rect x="716" y="196.5" width="3" height="15.4" fill="#46a591"/>
<rect x="720" y="193.5" width="1" height="31.4" fill="#e5525b"/>
<rect x="719" y="200.2" width="3" height="6.8" fill="#e5525b"/>
<rect x="723" y="195.3" width="1" height="30.1" fill="#46a591"/>
<rect x="722" y="207.6" width="3" height="13.5" fill="#46a591"/>
<rect x="727" y="192.2" width="1" height="20.3" fill="#46a591"/>
<rect x="726" y="194.7" width="3" height="17.8" fill="#46a591"/>
<rect x="730" y="188.5" width="1" height="22.1" fill="#e5525b"/>
<rect x="729" y="192.8" width="3" height="17.8" fill="#e5525b"/>
<rect x="733" y="203.9" width="1" height="32.0" fill="#e5525b"/>
<rect x="732" y="207.6" width="3" height="12.9" fill="#e5525b"/>
<rect x="737" y="213.1" width="1" height="50.4" fill="#e5525b"/>
<rect x="736" y="217.4" width="3" height="31.4" fill="#e5525b"/>
<rect x="740" y="250.4" width="1" height="36.9" fill="#e5525b"/>
<rect x="739" y="255.3" width="3" height="14.1" fill="#e5525b"/>
<rect x="744" y="255.3" width="1" height="17.8" fill="#46a591"/>
<rect x="743" y="263.3" width="3" height="9.8" fill="#46a591"/>
<rect x="747" y="244.2" width="1" height="37.5" fill="#e5525b"/>
<rect x="746" y="258.4" width="3" height="23.4" fill="#e5525b"/>
<rect x="750" y="252.8" width="1" height="108.3" fill="#e5525b"/>
<rect x="749" y="281.7" width="3" height="76.3" fill="#e5525b"/>
<rect x="754" y="290.4" width="1" height="106.4" fill="#46a591"/>
<rect x="753" y="308.8" width="3" height="64.6" fill="#46a591"/>
<rect x="757" y="295.3" width="1" height="35.7" fill="#e5525b"/>
<rect x="756" y="301.4" width="3" height="19.7" fill="#e5525b"/>
<rect x="760" y="284.2" width="1" height="65.9" fill="#46a591"/>
<rect x="759" y="284.8" width="3" height="37.5" fill="#46a591"/>
<rect x="764" y="257.1" width="1" height="41.8" fill="#46a591"/>
<rect x="763" y="259.0" width="3" height="26.4" fill="#46a591"/>
<rect x="767" y="253.5" width="1" height="23.4" fill="#e5525b"/>
<rect x="766" y="260.8" width="3" height="3.1" fill="#e5525b"/>
<rect x="770" y="217.7" width="1" height="36.4" fill="#46a591"/>
<rect x="769" y="222.0" width="3" height="29.0" fill="#46a591"/>
<rect x="774" y="215.2" width="1" height="35.8" fill="#e5525b"/>
<rect x="773" y="223.2" width="3" height="19.8" fill="#e5525b"/>
<rect x="777" y="211.5" width="1" height="31.5" fill="#46a591"/>
<rect x="776" y="226.3" width="3" height="16.7" fill="#46a591"/>
<rect x="780" y="208.4" width="1" height="24.0" fill="#46a591"/>
<rect x="779" y="210.3" width="3" height="18.5" fill="#46a591"/>
<rect x="784" y="200.4" width="1" height="22.8" fill="#e5525b"/>
<rect x="783" y="211.5" width="3" height="4.3" fill="#e5525b"/>
<rect x="787" y="202.3" width="1" height="22.8" fill="#46a591"/>
<rect x="786" y="215.2" width="3" height="8.6" fill="#46a591"/>
<rect x="790" y="182.6" width="1" height="43.1" fill="#46a591"/>
<rect x="789" y="184.4" width="3" height="39.4" fill="#46a591"/>
<rect x="794" y="167.8" width="1" height="17.2" fill="#46a591"/>
<rect x="793" y="174.0" width="3" height="11.1" fill="#46a591"/>
<rect x="797" y="166.6" width="1" height="13.5" fill="#e5525b"/>
<rect x="796" y="170.9" width="3" height="1.8" fill="#e5525b"/>
<rect x="801" y="161.7" width="1" height="18.5" fill="#46a591"/>
<rect x="800" y="164.8" width="3" height="12.9" fill="#46a591"/>
<rect x="804" y="150.5" width="1" height="14.8" fill="#46a591"/>
<rect x="803" y="150.5" width="3" height="14.8" fill="#46a591"/>
<rect x="807" y="143.1" width="1" height="35.7" fill="#e5525b"/>
<rect x="806" y="147.4" width="3" height="29.5" fill="#e5525b"/>
<rect x="811" y="149.3" width="1" height="27.1" fill="#46a591"/>
<rect x="810" y="149.3" width="3" height="27.1" fill="#46a591"/>
<rect x="814" y="136.4" width="1" height="17.8" fill="#46a591"/>
<rect x="813" y="142.5" width="3" height="7.4" fill="#46a591"/>
<rect x="817" y="137.6" width="1" height="20.3" fill="#46a591"/>
<rect x="816" y="138.8" width="3" height="3.1" fill="#46a591"/>
<rect x="821" y="132.7" width="1" height="13.5" fill="#e5525b"/>
<rect x="820" y="138.2" width="3" height="2.5" fill="#e5525b"/>
<rect x="824" y="129.6" width="1" height="25.8" fill="#46a591"/>
<rect x="823" y="137.6" width="3" height="1.8" fill="#46a591"/>
<rect x="827" y="119.1" width="1" height="19.1" fill="#46a591"/>
<rect x="826" y="121.0" width="3" height="17.2" fill="#46a591"/>
<rect x="831" y="107.5" width="1" height="17.8" fill="#46a591"/>
<rect x="830" y="109.3" width="3" height="12.9" fill="#46a591"/>
<rect x="834" y="103.7" width="1" height="19.7" fill="#e5525b"/>
<rect x="833" y="109.2" width="3" height="3.7" fill="#e5525b"/>
<rect x="837" y="95.7" width="1" height="17.2" fill="#46a591"/>
<rect x="836" y="101.2" width="3" height="11.7" fill="#46a591"/>
<rect x="841" y="93.2" width="1" height="40.6" fill="#e5525b"/>
<rect x="840" y="99.4" width="3" height="34.4" fill="#e5525b"/>
<rect x="844" y="99.4" width="1" height="18.5" fill="#46a591"/>
<rect x="843" y="105.5" width="3" height="11.7" fill="#46a591"/>
<rect x="847" y="85.8" width="1" height="23.4" fill="#46a591"/>
<rect x="846" y="87.7" width="3" height="18.5" fill="#46a591"/>
<rect x="851" y="68.6" width="1" height="16.0" fill="#e5525b"/>
<rect x="850" y="79.7" width="3" height="3.1" fill="#e5525b"/>
<rect x="854" y="74.8" width="1" height="38.7" fill="#e5525b"/>
<rect x="853" y="80.9" width="3" height="16.0" fill="#e5525b"/>
<rect x="858" y="76.0" width="1" height="33.8" fill="#e5525b"/>
<rect x="857" y="93.2" width="3" height="3.7" fill="#e5525b"/>
<rect x="861" y="90.8" width="1" height="22.0" fill="#e5525b"/>
<rect x="860" y="96.5" width="3" height="10.3" fill="#e5525b"/>
</g>
<text x="906.3" y="648.3" font-size="14.5" fill="#b8b8b8" stroke="#b8b8b8" stroke-width="0.2" textLength="60.3" lengthAdjust="spacingAndGlyphs">3,200.00</text>
<text x="906.3" y="586.5" font-size="14.5" fill="#b8b8b8" stroke="#b8b8b8" stroke-width="0.2" textLength="60.3" lengthAdjust="spacingAndGlyphs">3,600.00</text>
<text x="906.3" y="524.7" font-size="14.5" fill="#b8b8b8" stroke="#b8b8b8" stroke-width="0.2" textLength="60.3" lengthAdjust="spacingAndGlyphs">4,000.00</text>
<text x="906.3" y="462.9" font-size="14.5" fill="#b8b8b8" stroke="#b8b8b8" stroke-width="0.2" textLength="60.3" lengthAdjust="spacingAndGlyphs">4,400.00</text>
<text x="906.3" y="401.1" font-size="14.5" fill="#b8b8b8" stroke="#b8b8b8" stroke-width="0.2" textLength="60.3" lengthAdjust="spacingAndGlyphs">4,800.00</text>
<text x="906.3" y="339.3" font-size="14.5" fill="#b8b8b8" stroke="#b8b8b8" stroke-width="0.2" textLength="60.3" lengthAdjust="spacingAndGlyphs">5,200.00</text>
<text x="906.3" y="277.5" font-size="14.5" fill="#b8b8b8" stroke="#b8b8b8" stroke-width="0.2" textLength="60.3" lengthAdjust="spacingAndGlyphs">5,600.00</text>
<text x="906.3" y="215.7" font-size="14.5" fill="#b8b8b8" stroke="#b8b8b8" stroke-width="0.2" textLength="60.3" lengthAdjust="spacingAndGlyphs">6,000.00</text>
<text x="906.3" y="153.9" font-size="14.5" fill="#b8b8b8" stroke="#b8b8b8" stroke-width="0.2" textLength="60.3" lengthAdjust="spacingAndGlyphs">6,400.00</text>
<text x="906.3" y="92.1" font-size="14.5" fill="#b8b8b8" stroke="#b8b8b8" stroke-width="0.2" textLength="60.3" lengthAdjust="spacingAndGlyphs">6,800.00</text>
<text x="906.3" y="30.3" font-size="14.5" fill="#b8b8b8" stroke="#b8b8b8" stroke-width="0.2" textLength="60.3" lengthAdjust="spacingAndGlyphs">7,200.00</text>
<rect x="896.8" y="96.6" width="75.9" height="22" rx="2.2" fill="#e8324a"/>
<text x="906" y="112.1" font-size="14.5" fill="#ffffff" stroke="#ffffff" stroke-width="0.4" textLength="60.7" lengthAdjust="spacingAndGlyphs">6,676.20</text>
<text x="-11.2" y="674.8" font-size="16.5" font-weight="bold" fill="#d2d2d2" textLength="36.2" lengthAdjust="spacingAndGlyphs">2021</text>
<text x="87.5" y="674.8" font-size="15.5" fill="#b4b4b4" stroke="#b4b4b4" stroke-width="0.2" textLength="20.0" lengthAdjust="spacingAndGlyphs">Jul</text>
<text x="165.4" y="674.8" font-size="16.5" font-weight="bold" fill="#d2d2d2" textLength="36.2" lengthAdjust="spacingAndGlyphs">2022</text>
<text x="260.5" y="674.8" font-size="15.5" fill="#b4b4b4" stroke="#b4b4b4" stroke-width="0.2" textLength="20.0" lengthAdjust="spacingAndGlyphs">Jul</text>
<text x="339.7" y="674.8" font-size="16.5" font-weight="bold" fill="#d2d2d2" textLength="36.2" lengthAdjust="spacingAndGlyphs">2023</text>
<text x="435.8" y="674.8" font-size="15.5" fill="#b4b4b4" stroke="#b4b4b4" stroke-width="0.2" textLength="20.0" lengthAdjust="spacingAndGlyphs">Jul</text>
<text x="514.6" y="674.8" font-size="16.5" font-weight="bold" fill="#d2d2d2" textLength="36.2" lengthAdjust="spacingAndGlyphs">2024</text>
<text x="610.5" y="674.8" font-size="15.5" fill="#b4b4b4" stroke="#b4b4b4" stroke-width="0.2" textLength="20.0" lengthAdjust="spacingAndGlyphs">Jul</text>
<text x="691.5" y="674.8" font-size="16.5" font-weight="bold" fill="#d2d2d2" textLength="36.2" lengthAdjust="spacingAndGlyphs">2025</text>
<text x="787.4" y="674.8" font-size="15.5" fill="#b4b4b4" stroke="#b4b4b4" stroke-width="0.2" textLength="20.0" lengthAdjust="spacingAndGlyphs">Jul</text>
<text x="866.1" y="674.8" font-size="16.5" font-weight="bold" fill="#d2d2d2" textLength="36.2" lengthAdjust="spacingAndGlyphs">2026</text>
<rect x="896" y="652" width="79" height="36" fill="#0f0f0f"/>
<g transform="translate(938,670.5)" fill="none" stroke="#d0d0d0" stroke-width="1.6" stroke-linejoin="round"><path d="M-9,0 L-4.6,-7.8 L4.6,-7.8 L9,0 L4.6,7.8 L-4.6,7.8 Z"/><circle r="2.7"/></g>
<text x="16.3" y="720.4" font-size="18" fill="#dedede" stroke="#dedede" stroke-width="0.25" textLength="18.9" lengthAdjust="spacingAndGlyphs">1D</text>
<text x="52" y="720.4" font-size="18" fill="#dedede" stroke="#dedede" stroke-width="0.25" textLength="20.4" lengthAdjust="spacingAndGlyphs">5D</text>
<text x="89.2" y="720.4" font-size="18" fill="#dedede" stroke="#dedede" stroke-width="0.25" textLength="21.4" lengthAdjust="spacingAndGlyphs">1M</text>
<text x="126.4" y="720.4" font-size="18" fill="#dedede" stroke="#dedede" stroke-width="0.25" textLength="22.3" lengthAdjust="spacingAndGlyphs">3M</text>
<text x="164.6" y="720.4" font-size="18" fill="#dedede" stroke="#dedede" stroke-width="0.25" textLength="22.6" lengthAdjust="spacingAndGlyphs">6M</text>
<text x="203" y="720.4" font-size="18" fill="#dedede" stroke="#dedede" stroke-width="0.25" textLength="31.2" lengthAdjust="spacingAndGlyphs">YTD</text>
<text x="251.5" y="720.4" font-size="18" fill="#dedede" stroke="#dedede" stroke-width="0.25" textLength="18.3" lengthAdjust="spacingAndGlyphs">1Y</text>
<text x="286.2" y="720.4" font-size="18" fill="#dedede" stroke="#dedede" stroke-width="0.25" textLength="18.8" lengthAdjust="spacingAndGlyphs">5Y</text>
<text x="321.9" y="720.4" font-size="18" fill="#dedede" stroke="#dedede" stroke-width="0.25" textLength="20.8" lengthAdjust="spacingAndGlyphs">All</text>
<text font-size="18" fill="#dedede" stroke="#dedede" stroke-width="0.25"><tspan x="857.0" y="720.4" textLength="67.7" lengthAdjust="spacingAndGlyphs">21:54:02</tspan> <tspan x="933.0" y="720.4" textLength="33.2" lengthAdjust="spacingAndGlyphs">UTC</tspan></text>
<circle cx="19.5" cy="23.5" r="12.5" fill="#d2203c"/>
<text x="10" y="26.9" font-size="9.5" font-weight="bold" fill="#fff" textLength="19" lengthAdjust="spacingAndGlyphs">500</text>
<text font-size="20.5" fill="#e6e6e6" stroke="#e6e6e6" stroke-width="0.55"><tspan x="36.4" y="31" textLength="35.6" lengthAdjust="spacingAndGlyphs">S&amp;P</tspan> <tspan x="79.7" y="31" textLength="31.3" lengthAdjust="spacingAndGlyphs">500</tspan> <tspan x="119.0" y="31" textLength="48.0" lengthAdjust="spacingAndGlyphs">Index</tspan> <tspan x="173.6" y="31.6" textLength="4.8" lengthAdjust="spacingAndGlyphs" font-weight="bold" font-size="19" stroke-width="0.9">·</tspan> <tspan x="185.3" y="31" textLength="25.7" lengthAdjust="spacingAndGlyphs">1W</tspan> <tspan x="217.6" y="31.6" textLength="4.8" lengthAdjust="spacingAndGlyphs" font-weight="bold" font-size="19" stroke-width="0.9">·</tspan> <tspan x="229.3" y="31" textLength="83.5" lengthAdjust="spacingAndGlyphs">BlackBull</tspan> <tspan x="320.6" y="31" textLength="71.2" lengthAdjust="spacingAndGlyphs">Markets</tspan></text>
<clipPath id="pc"><rect x="403.5" y="12" width="51" height="24" rx="9"/></clipPath>
<g clip-path="url(#pc)"><rect x="403" y="12" width="25.5" height="24" fill="#1c2f2b"/><rect x="428.5" y="12" width="27" height="24" fill="#62163f"/></g>
<circle cx="417" cy="23" r="5.6" fill="#3eb596"/>
<g fill="none" stroke="#d42a6e" stroke-width="1.45" stroke-linecap="round"><path d="M435.5,21.2 q2.6,-2.4 5.2,-0.6 t5.2,-0.6"/><path d="M435.5,26.2 q2.6,-2.4 5.2,-0.6 t5.2,-0.6"/></g>
<text font-size="17" ><tspan x="6.3" y="57" textLength="12.0" lengthAdjust="spacingAndGlyphs" fill="#dadada" stroke="#dadada" stroke-width="0.8">O</tspan> <tspan x="20.1" y="57" textLength="63.6" lengthAdjust="spacingAndGlyphs" fill="#d24a54" stroke="#d24a54" stroke-width="0.4">6,743.90</tspan> <tspan x="93.5" y="57" textLength="10.0" lengthAdjust="spacingAndGlyphs" fill="#dadada" stroke="#dadada" stroke-width="0.8">H</tspan> <tspan x="105.0" y="57" textLength="64.6" lengthAdjust="spacingAndGlyphs" fill="#d24a54" stroke="#d24a54" stroke-width="0.4">6,780.70</tspan> <tspan x="178.9" y="57" textLength="7.5" lengthAdjust="spacingAndGlyphs" fill="#dadada" stroke="#dadada" stroke-width="0.8">L</tspan> <tspan x="188.4" y="57" textLength="66.0" lengthAdjust="spacingAndGlyphs" fill="#d24a54" stroke="#d24a54" stroke-width="0.4">6,638.00</tspan> <tspan x="262.7" y="57" textLength="8.8" lengthAdjust="spacingAndGlyphs" fill="#dadada" stroke="#dadada" stroke-width="0.8">C</tspan> <tspan x="273.2" y="57" textLength="66.1" lengthAdjust="spacingAndGlyphs" fill="#d24a54" stroke="#d24a54" stroke-width="0.4">6,676.20</tspan> <tspan x="348.1" y="57" textLength="49.0" lengthAdjust="spacingAndGlyphs" fill="#d24a54" stroke="#d24a54" stroke-width="0.4">−65.70</tspan> <tspan x="403.4" y="57" textLength="62.8" lengthAdjust="spacingAndGlyphs" fill="#d24a54" stroke="#d24a54" stroke-width="0.4">(−0.97%)</tspan></text>
<text font-size="48" fill="#e01414" stroke="#e01414" stroke-width="1.3" stroke-linejoin="round"><tspan x="73.5" y="221.4" textLength="45.5" lengthAdjust="spacingAndGlyphs" stroke-width="1.8">SP</tspan> <tspan x="135.0" y="221.4" textLength="76.4" lengthAdjust="spacingAndGlyphs">500</tspan> <tspan x="224.0" y="221.4" textLength="141.2" lengthAdjust="spacingAndGlyphs">weekly</tspan> <tspan x="381.5" y="221.4" textLength="154.5" lengthAdjust="spacingAndGlyphs">candles</tspan></text>
<rect x="96.4" y="221.6" width="25" height="1.7" fill="#e01414"/>
</svg>
</body></html>
